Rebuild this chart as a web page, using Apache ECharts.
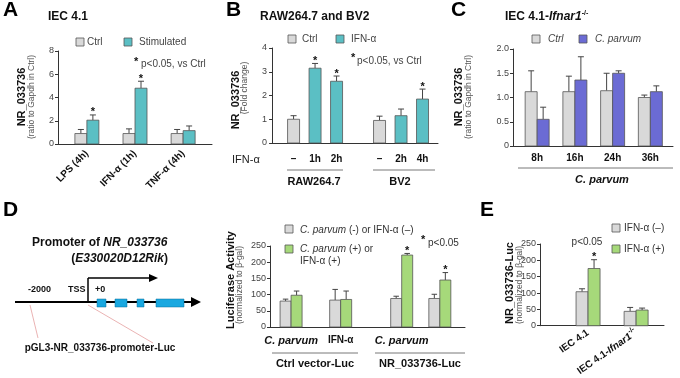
<!DOCTYPE html>
<html>
<head>
<meta charset="utf-8">
<script src="https://cdn.jsdelivr.net/npm/echarts@6/dist/echarts.min.js"></script>
<style>html,body{margin:0;padding:0;background:#fff}#main{width:680px;height:378px}</style>
</head>
<body>
<div id="main"></div>
<script>
// ---- A: IEC 4.1 ----
const aCats = ['LPS (4h)', 'IFN-α (1h)', 'TNF-α (4h)'];
const aPos = [1, 2, 3];
const aCtrl = [0.9, 0.9, 0.9];
const aCtrlErr = [0.35, 0.4, 0.35];
const aStim = [2.05, 4.8, 1.15];
const aStimErr = [0.45, 0.6, 0.4];
const aStimSig = [1, 1, 0];

// ---- B: RAW264.7 and BV2 ----
const bCats = ['–', '1h', '2h', '–', '2h', '4h'];
const bPos = [1, 2, 3, 5, 6, 7];
const bVal = [1.0, 3.15, 2.6, 0.95, 1.15, 1.85];
const bErr = [0.15, 0.2, 0.22, 0.18, 0.28, 0.42];
const bIfn = [0, 1, 1, 0, 1, 1];
const bSig = [0, 1, 1, 0, 0, 1];

// ---- C: IEC 4.1-Ifnar1-/- ----
const cCats = ['8h', '16h', '24h', '36h'];
const cPos = [1, 2, 3, 4];
const cCtrl = [1.12, 1.12, 1.14, 1.0];
const cCtrlErr = [0.43, 0.32, 0.36, 0.05];
const cCp = [0.55, 1.36, 1.5, 1.12];
const cCpErr = [0.25, 0.48, 0.05, 0.12];

// ---- D: luciferase ----
const dCats = ['C. parvum', 'IFN-α', 'C. parvum', 'IFN-α'];
const dPos = [1, 2.3, 3.9, 4.9];
const dNeg = [80, 83, 88, 88];
const dNegErr = [6, 33, 7, 13];
const dPlus = [98, 85, 222, 145];
const dPlusErr = [13, 26, 5, 23];
const dPlusSig = [0, 0, 1, 1];

// ---- E: NR_033736-Luc ----
const eCats = ['IEC 4.1', 'IEC 4.1-Ifnar1-/-'];
const ePos = [1, 2];
const eNeg = [104, 44];
const eNegErr = [9, 12];
const ePlus = [175, 48];
const ePlusErr = [27, 6];
const ePlusSig = [1, 0];

const FONT = '"Liberation Sans", Arial, sans-serif';
const GRAY = '#d9d9d9', TEAL = '#5bbfc4', PURPLE = '#6b6bd4', GREEN = '#a6d97a';

const toData = (pos, vals, errs, sig) => vals.map((v, i) => [pos[i], v, errs[i], sig ? sig[i] : 0]);

// bar + upper error whisker + significance star
function barSeries(idx, name, data, color, shift, w) {
    return {
        type: 'custom', name, xAxisIndex: idx, yAxisIndex: idx, data,
        renderItem: function (params, api) {
            const x = api.value(0), v = api.value(1), e = api.value(2);
            const p0 = api.coord([x, 0]), p1 = api.coord([x, v]), p2 = api.coord([x, v + e]);
            const cx = p0[0] + shift;
            const kids = [
                { type: 'line', shape: { x1: cx, y1: p1[1], x2: cx, y2: p2[1] }, style: { stroke: '#444', lineWidth: 1 } },
                { type: 'line', shape: { x1: cx - w / 4, y1: p2[1], x2: cx + w / 4, y2: p2[1] }, style: { stroke: '#444', lineWidth: 1 } },
                { type: 'rect', shape: { x: cx - w / 2, y: p1[1], width: w, height: p0[1] - p1[1] }, style: { fill: color, stroke: '#555', lineWidth: 0.8 } }
            ];
            if (api.value(3)) {
                kids.push({ type: 'text', x: cx, y: p2[1] + 3, style: { text: '*', font: 'bold 11px ' + FONT, fill: '#111', align: 'center', verticalAlign: 'bottom' } });
            }
            return { type: 'group', children: kids };
        }
    };
}

function xAx(idx, min, max, pos, cats, lbl) {
    return {
        type: 'value', gridIndex: idx, min, max,
        axisLine: { show: true, onZero: false, lineStyle: { color: '#333', width: 1 } },
        axisTick: { show: false }, splitLine: { show: false },
        axisLabel: Object.assign({
            customValues: pos, formatter: (v) => cats[pos.indexOf(v)],
            fontFamily: FONT, fontWeight: 'bold', fontSize: 10, color: '#111'
        }, lbl)
    };
}
function yAx(idx, max, interval, fmt) {
    return {
        type: 'value', gridIndex: idx, min: 0, max, interval,
        axisLine: { show: true, lineStyle: { color: '#333' } },
        axisTick: { show: true, length: 3, lineStyle: { color: '#333' } },
        splitLine: { show: false },
        axisLabel: { fontFamily: FONT, fontSize: 9, color: '#444', margin: 4, formatter: fmt }
    };
}

// graphic helpers
const txt = (text, x, y, font, align, extra) => Object.assign({
    type: 'text', x, y,
    style: Object.assign({ text, font: font + ' ' + FONT, fill: '#222', align: align || 'left', verticalAlign: 'middle' }, extra || {})
});
const vtxt = (text, x, y, font, fill) => ({
    type: 'text', x, y, rotation: Math.PI / 2,
    style: { text, font: font + ' ' + FONT, fill: fill || '#111', align: 'center', verticalAlign: 'middle' }
});
const box = (x, y, color) => ({ type: 'rect', shape: { x, y, width: 8, height: 8 }, style: { fill: color, stroke: '#555', lineWidth: 0.8 } });
const ln = (x1, y1, x2, y2, stroke, w) => ({ type: 'line', shape: { x1, y1, x2, y2 }, style: { stroke: stroke || '#333', lineWidth: w || 1 } });
const poly = (pts, fill) => ({ type: 'polygon', shape: { points: pts }, style: { fill } });
const exon = (x, w) => ({ type: 'rect', shape: { x, y: 299, width: w, height: 8 }, style: { fill: '#1aa8e0', stroke: '#0b6f9a', lineWidth: 0.5 } });
const RICH = {
    i: { fontFamily: FONT, fontStyle: 'italic', fontWeight: 'bold', fontSize: 11, color: '#111' },
    ir: { fontFamily: FONT, fontStyle: 'italic', fontSize: 10, color: '#333' },
    it12: { fontFamily: FONT, fontStyle: 'italic', fontWeight: 'bold', fontSize: 12, color: '#111' },
    sup: { fontFamily: FONT, fontWeight: 'bold', fontSize: 7, padding: [0, 0, 8, 0], color: '#111' }
};

const graphics = [
    // panel letters
    txt('A', 3, 0, 'bold 21px', 'left', { verticalAlign: 'top', fill: '#000' }),
    txt('B', 226, 0, 'bold 21px', 'left', { verticalAlign: 'top', fill: '#000' }),
    txt('C', 451, 0, 'bold 21px', 'left', { verticalAlign: 'top', fill: '#000' }),
    txt('D', 3, 200, 'bold 21px', 'left', { verticalAlign: 'top', fill: '#000' }),
    txt('E', 480, 200, 'bold 21px', 'left', { verticalAlign: 'top', fill: '#000' }),

    // A
    txt('IEC 4.1', 48, 17, 'bold 12px', 'left', { fill: '#111' }),
    box(76, 38, GRAY), txt('Ctrl', 87, 42, '10px', 'left', { fill: '#444' }),
    box(124, 38, TEAL), txt('Stimulated', 139, 42, '10px', 'left', { fill: '#444' }),
    txt('*', 134, 62, 'bold 11px', 'left', { fill: '#111' }),
    txt('p<0.05, vs Ctrl', 141, 64, '10px', 'left', { fill: '#444' }),
    vtxt('NR_033736', 22, 97, 'bold 11px'),
    vtxt('(ratio to Gapdh in Ctrl)', 32, 97, '8.5px', '#555'),

    // B
    txt('RAW264.7 and BV2', 260, 17, 'bold 12px', 'left', { fill: '#111' }),
    box(288, 35, GRAY), txt('Ctrl', 302, 39, '10px', 'left', { fill: '#444' }),
    box(336, 35, TEAL), txt('IFN-α', 351, 39, '10px', 'left', { fill: '#444' }),
    txt('*', 351, 58, 'bold 11px', 'left', { fill: '#111' }),
    txt('p<0.05, vs Ctrl', 357, 61, '10px', 'left', { fill: '#444' }),
    vtxt('NR_033736', 236, 100, 'bold 11px'),
    vtxt('(Fold change)', 245, 88, '8.5px', '#555'),
    txt('IFN-α', 232, 160, '11px', 'left', { fill: '#222' }),
    ln(287, 170, 343, 170, '#555', 0.8), ln(373, 170, 435, 170, '#555', 0.8),
    txt('RAW264.7', 314, 182, 'bold 11px', 'center', { fill: '#111' }),
    txt('BV2', 400, 182, 'bold 11px', 'center', { fill: '#111' }),

    // C
    { type: 'text', x: 505, y: 17, style: { text: 'IEC 4.1-{it|Ifnar1}{sup|-/-}', font: 'bold 12px ' + FONT, fill: '#111', verticalAlign: 'middle',
        rich: { it: RICH.it12, sup: RICH.sup } } },
    box(532, 35, GRAY), txt('Ctrl', 548, 39, 'italic 10px', 'left', { fill: '#444' }),
    box(579, 35, PURPLE), txt('C. parvum', 595, 39, 'italic 10px', 'left', { fill: '#444' }),
    vtxt('NR_033736', 459, 97, 'bold 11px'),
    vtxt('(ratio to Gapdh in Ctrl)', 469, 97, '8.5px', '#555'),
    ln(518, 168, 673, 168, '#555', 0.8),
    txt('C. parvum', 602, 180, 'italic bold 11px', 'center', { fill: '#111' }),

    // D promoter diagram
    { type: 'text', x: 32, y: 243, style: { text: 'Promoter of {it|NR_033736}', font: 'bold 12px ' + FONT, fill: '#111', verticalAlign: 'middle',
        rich: { it: RICH.it12 } } },
    { type: 'text', x: 168, y: 259, style: { text: '({it|E330020D12Rik})', font: 'bold 12px ' + FONT, fill: '#111', align: 'right', verticalAlign: 'middle',
        rich: { it: RICH.it12 } } },
    ln(30, 305, 38, 338, '#e4a0a0', 0.8), ln(88, 305, 153, 343, '#e4a0a0', 0.8),
    ln(15, 302, 193, 302, '#000', 2.2), poly([[191, 297], [201, 302], [191, 307]], '#000'),
    ln(88, 302, 88, 278, '#000', 1.5), ln(88, 278, 151, 278, '#000', 1.5), poly([[149, 274], [158, 278], [149, 282]], '#000'),
    exon(97, 9), exon(115, 12), exon(137, 7), exon(156, 28),
    txt('-2000', 28, 290, 'bold 9px', 'left', { fill: '#111' }),
    txt('TSS', 68, 290, 'bold 9px', 'left', { fill: '#111' }),
    txt('+0', 95, 290, 'bold 9px', 'left', { fill: '#111' }),
    txt('pGL3-NR_033736-promoter-Luc', 100, 348, 'bold 10px', 'center', { fill: '#111' }),

    // D chart
    box(285, 225, GRAY),
    { type: 'text', x: 300, y: 230, style: { text: '{ir|C. parvum} (-) or IFN-α (–)', font: '10px ' + FONT, fill: '#333', verticalAlign: 'middle', rich: { ir: RICH.ir } } },
    box(285, 245, GREEN),
    { type: 'text', x: 300, y: 249, style: { text: '{ir|C. parvum} (+) or', font: '10px ' + FONT, fill: '#333', verticalAlign: 'middle', rich: { ir: RICH.ir } } },
    txt('IFN-α (+)', 300, 261, '10px', 'left', { fill: '#333' }),
    txt('*', 421, 240, 'bold 11px', 'left', { fill: '#111' }),
    txt('p<0.05', 428, 243, '10px', 'left', { fill: '#333' }),
    vtxt('Luciferase Activity', 231, 280, 'bold 11px'),
    vtxt('(normalized to β-gal)', 240, 285, '8.5px', '#555'),
    ln(272, 353, 358, 353, '#555', 0.8), ln(375, 353, 465, 353, '#555', 0.8),
    txt('Ctrl vector-Luc', 315, 364, 'bold 11px', 'center', { fill: '#111' }),
    txt('NR_033736-Luc', 420, 364, 'bold 11px', 'center', { fill: '#111' }),

    // E
    box(612, 224, GRAY), txt('IFN-α (–)', 624, 228, '10px', 'left', { fill: '#333' }),
    box(612, 245, GREEN), txt('IFN-α (+)', 624, 249, '10px', 'left', { fill: '#333' }),
    txt('p<0.05', 587, 242, '10px', 'center', { fill: '#333' }),
    vtxt('NR_033736-Luc', 510, 283, 'bold 11px'),
    vtxt('(normalized to β-gal)', 520, 285, '8.5px', '#555')
];

const option = {
    animation: false,
    grid: [
        { left: 58, top: 51, width: 154, height: 93 },
        { left: 271, top: 48, width: 167, height: 95 },
        { left: 513, top: 49, width: 160, height: 97 },
        { left: 270, top: 246, width: 195, height: 81 },
        { left: 540, top: 244, width: 124, height: 83 }
    ],
    xAxis: [
        xAx(0, 0.4, 3.6, aPos, aCats, { rotate: 45, margin: 8 }),
        xAx(1, -0.05, 7.72, bPos, bCats, { margin: 11 }),
        xAx(2, 0.36, 4.6, cPos, cCats, { margin: 7 }),
        xAx(3, 0.447, 5.56, dPos, dCats, {
            margin: 8,
            formatter: (v) => { const s = dCats[dPos.indexOf(v)]; return s.indexOf('parvum') >= 0 ? '{i|' + s + '}' : s; },
            rich: { i: RICH.i }
        }),
        xAx(4, 0, 2.58, ePos, eCats, {
            rotate: 35, margin: 6,
            formatter: (v) => { const s = eCats[ePos.indexOf(v)]; return s.indexOf('Ifnar1') >= 0 ? 'IEC 4.1-{i|Ifnar1}{sup|-/-}' : s; },
            rich: { i: Object.assign({}, RICH.i, { fontSize: 10 }), sup: RICH.sup }
        })
    ],
    yAxis: [
        yAx(0, 8, 2),
        yAx(1, 4, 1),
        yAx(2, 2, 0.5, (v) => v === 0 ? '0' : v.toFixed(1)),
        yAx(3, 250, 50),
        yAx(4, 250, 50)
    ],
    series: [
        barSeries(0, 'Ctrl', toData(aPos, aCtrl, aCtrlErr), GRAY, -6, 12),
        barSeries(0, 'Stimulated', toData(aPos, aStim, aStimErr, aStimSig), TEAL, 6, 12),
        barSeries(1, 'Ctrl', toData(bPos, bVal, bErr, bSig).filter((d, i) => !bIfn[i]), GRAY, 0, 12),
        barSeries(1, 'IFN-α', toData(bPos, bVal, bErr, bSig).filter((d, i) => bIfn[i]), TEAL, 0, 12),
        barSeries(2, 'Ctrl', toData(cPos, cCtrl, cCtrlErr), GRAY, -6, 12),
        barSeries(2, 'C. parvum', toData(cPos, cCp, cCpErr), PURPLE, 6, 12),
        barSeries(3, '(-)', toData(dPos, dNeg, dNegErr), GRAY, -5.5, 11),
        barSeries(3, '(+)', toData(dPos, dPlus, dPlusErr, dPlusSig), GREEN, 5.5, 11),
        barSeries(4, 'IFN-α (–)', toData(ePos, eNeg, eNegErr), GRAY, -6, 12),
        barSeries(4, 'IFN-α (+)', toData(ePos, ePlus, ePlusErr, ePlusSig), GREEN, 6, 12)
    ],
    graphic: { elements: graphics }
};

const chart = echarts.init(document.getElementById('main'));
chart.setOption(option);
</script>
</body>
</html>
